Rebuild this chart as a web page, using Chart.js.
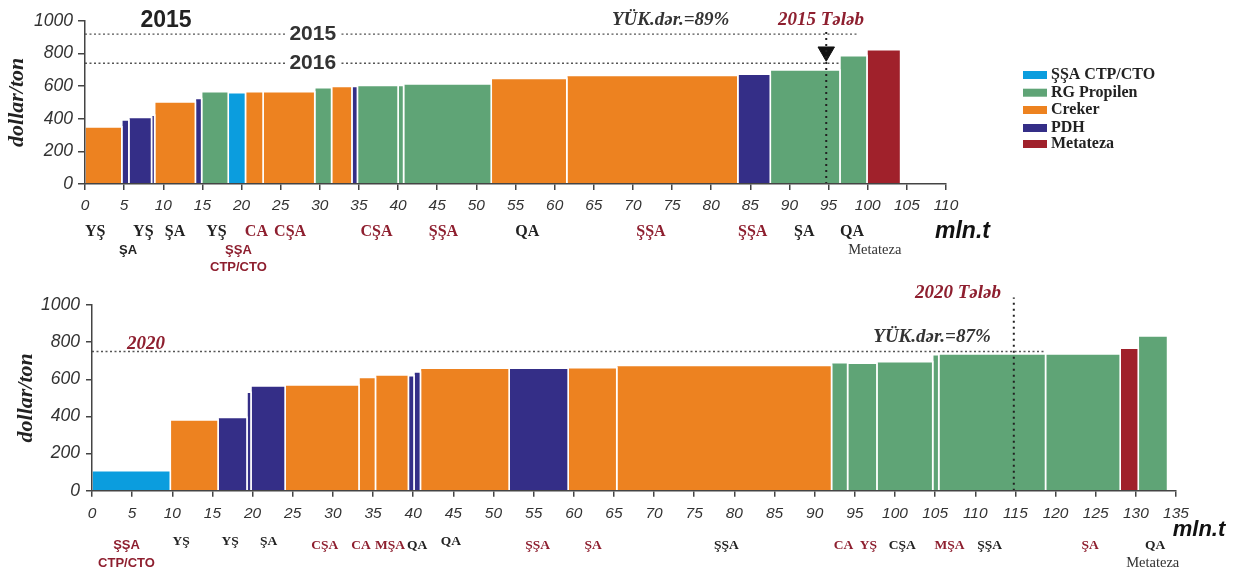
<!DOCTYPE html>
<html>
<head>
<meta charset="utf-8">
<script src="https://cdn.jsdelivr.net/npm/chart.js@4.4.1/dist/chart.umd.min.js"></script>
<style>
  body { margin: 0; background: #fff; }
  #wrap { position: relative; width: 1235px; height: 574px; }
  canvas { position: absolute; left: 0; }
</style>
</head>
<body>
<div id="wrap">
  <canvas id="chart2015" width="1235" height="280" style="top:0"></canvas>
  <canvas id="chart2020" width="1235" height="294" style="top:280px"></canvas>
</div>
<script>
// technology groups (legend order)
var techNames = ['ŞŞA CTP/CTO', 'RG Propilen', 'Creker', 'PDH', 'Metateza'];
var techColors = ['#0B9DDE', '#5FA476', '#ED8220', '#342E87', '#A0212B'];

// 2015 cost curve: capacity of each block (mln.t), cost (dollar/ton), technology index
var cap2015 = [4.7, 0.9, 2.9, 0.4, 5.2, 0.8, 3.4, 2.2, 2.25, 6.6, 2.15, 2.6, 0.7, 5.2, 0.7, 11.2, 9.65, 21.85, 4.15, 8.9, 3.45, 4.3];
var cost2015 = [350, 392, 408, 422, 502, 524, 565, 559, 565, 565, 590, 598, 598, 604, 604, 612, 647, 665, 673, 698, 786, 822];
var tech2015 = [2, 3, 3, 3, 2, 3, 1, 0, 2, 2, 1, 2, 3, 1, 1, 1, 2, 2, 3, 1, 1, 4];

// 2020 cost curve
var cap2020 = [9.75, 5.95, 3.6, 0.5, 4.25, 9.2, 2.05, 4.1, 0.7, 0.8, 11.05, 7.35, 6.05, 26.75, 2.0, 3.65, 6.95, 0.75, 13.3, 9.3, 2.25, 3.65];
var cost2020 = [108, 381, 395, 530, 564, 569, 610, 623, 619, 639, 659, 659, 662, 675, 689, 686, 695, 732, 736, 736, 768, 833];
var tech2020 = [0, 2, 3, 3, 3, 2, 2, 2, 3, 3, 2, 3, 2, 2, 1, 1, 1, 1, 1, 1, 4, 1];

// price levels (dollar/ton) and how far the dotted line runs (mln.t)
var price2015 = 918, price2015End = 98.7;
var price2016 = 739, price2016End = 96.45;
var price2020 = 750, price2020End = 118.75;

// demand and utilisation
var demand2015 = 94.7, demand2020 = 114.8;
var util2015 = 89, util2020 = 87;

// axis ranges
var xMax2015 = 110, xMax2020 = 135, xStep = 5;
var yMax = 1000, yStep = 200;

// region labels under the axes: [text, mln.t, style, row]
var labels2015 = [
  ['YŞ', 1.3, 'k', 0], ['ŞA', 5.5, 'ks', 1], ['YŞ', 7.45, 'k', 0], ['ŞA', 11.5, 'k', 0], ['YŞ', 16.8, 'k', 0],
  ['ŞŞA', 19.6, 'rs', 1], ['CTP/CTO', 19.6, 'rs', 2], ['CA', 21.9, 'r', 0], ['CŞA', 26.2, 'r', 0],
  ['CŞA', 37.25, 'r', 0], ['ŞŞA', 45.8, 'r', 0], ['QA', 56.5, 'k', 0], ['ŞŞA', 72.3, 'r', 0],
  ['ŞŞA', 85.3, 'r', 0], ['ŞA', 91.9, 'k', 0], ['QA', 98.0, 'k', 0], ['Metateza', 100.9, 'm', 1]
];
var labels2020 = [
  ['ŞŞA', 4.3, 'rs', 0], ['CTP/CTO', 4.3, 'rs', 2], ['YŞ', 11.1, 'k', 1], ['YŞ', 17.2, 'k', 1], ['ŞA', 22, 'k', 1],
  ['CŞA', 29, 'r', 0], ['CA', 33.5, 'r', 0], ['MŞA', 37.1, 'r', 0], ['QA', 40.5, 'k', 0], ['QA', 44.7, 'k', 1],
  ['ŞŞA', 55.5, 'r', 0], ['ŞA', 62.4, 'r', 0], ['ŞŞA', 79, 'k', 0], ['CA', 93.6, 'r', 0], ['YŞ', 96.7, 'r', 0],
  ['CŞA', 100.9, 'k', 0], ['MŞA', 106.8, 'r', 0], ['ŞŞA', 111.8, 'k', 0], ['ŞA', 124.3, 'r', 0],
  ['QA', 132.4, 'k', 0], ['Metateza', 132.1, 'm', 2]
];

var serif = "'Liberation Serif', 'Times New Roman', serif";
var sans = "'Liberation Sans', Arial, sans-serif";
var red = '#8E1F2F', ink = '#222', axisInk = '#444';

function labelStyles(size) {
  return {
    k:  { font: 'bold ' + size + 'px ' + serif, color: ink },
    r:  { font: 'bold ' + size + 'px ' + serif, color: red },
    ks: { font: 'bold 13px ' + sans, color: ink },
    rs: { font: 'bold 13px ' + sans, color: red },
    m:  { font: '14.5px ' + serif, color: '#333' }
  };
}

// each block is a closed step outline filled down to zero
function costBlocks(caps, costs, techs) {
  var sets = [], x0 = 0;
  for (var i = 0; i < caps.length; i++) {
    var x1 = x0 + caps[i];
    sets.push({
      data: [{x: x0, y: 0}, {x: x0, y: costs[i]}, {x: x1, y: costs[i]}, {x: x1, y: 0}],
      backgroundColor: techColors[techs[i]],
      borderColor: '#fff',
      borderWidth: 1.6,
      fill: 'origin',
      pointRadius: 0,
      order: 2
    });
    x0 = x1;
  }
  return sets;
}

function dotted(x0, y0, x1, y1, width, dash, color) {
  return {
    data: [{x: x0, y: y0}, {x: x1, y: y1}],
    borderColor: color, borderWidth: width, borderDash: dash,
    fill: false, pointRadius: 0, order: 0, clip: false
  };
}

function marker(x, y) {
  return {
    data: [{x: x, y: y}],
    showLine: false, pointStyle: 'triangle', rotation: 180, pointRadius: 9.5,
    backgroundColor: '#111', borderColor: '#111', borderWidth: 1,
    order: 0, clip: false
  };
}

function text(ctx, str, x, y, font, color, align) {
  ctx.font = font;
  ctx.fillStyle = color;
  ctx.textAlign = align || 'center';
  ctx.textBaseline = 'middle';
  ctx.fillText(str, x, y);
}

function annotate(id, labels, rowY, size, extra) {
  var styles = labelStyles(size);
  return {
    id: id,
    afterDraw: function (chart) {
      var ctx = chart.ctx, xs = chart.scales.x, b = chart.chartArea.bottom;
      ctx.save();
      labels.forEach(function (l) {
        var st = styles[l[2]];
        text(ctx, l[0], xs.getPixelForValue(l[1]), b + rowY[l[3]], st.font, st.color);
      });
      extra(chart, ctx);
      ctx.restore();
    }
  };
}

function options(xMax, axisWidth, pad, titlePad, xLabelPad, yLabelPad, yTick) {
  return {
    responsive: false,
    animation: false,
    devicePixelRatio: 1,
    layout: { padding: pad },
    plugins: { legend: { display: false }, tooltip: { enabled: false } },
    scales: {
      x: {
        type: 'linear', min: 0, max: xMax,
        ticks: {
          stepSize: xStep, autoSkip: false, maxRotation: 0, padding: xLabelPad,
          color: '#333', font: { family: sans, size: 15.5, style: 'italic' },
          callback: function (v) { return String(v); }
        },
        grid: { drawOnChartArea: false, tickLength: 6, color: axisInk, lineWidth: 1.5 },
        border: { color: axisInk, width: 1.5, z: 1 },
        afterFit: function (s) { s.height = 40; }
      },
      y: {
        min: 0, max: yMax,
        ticks: {
          stepSize: yStep, padding: yLabelPad,
          color: '#333', font: { family: sans, size: 17.5, style: 'italic' },
          callback: function (v) { return String(v); }
        },
        grid: { drawOnChartArea: false, tickLength: yTick, color: axisInk, lineWidth: 1.5 },
        border: { color: axisInk, width: 1.5, z: 1 },
        title: {
          display: true, text: 'dollar/ton', color: ink,
          font: { family: serif, size: 22, weight: 'bold', style: 'italic' },
          padding: { top: titlePad, bottom: 0 }
        },
        afterFit: function (s) { s.width = axisWidth; }
      }
    }
  };
}

// ---------- 2015 ----------
var sets2015 = costBlocks(cap2015, cost2015, tech2015).concat([
  dotted(0, price2015, price2015End, price2015, 1.4, [2, 2.5], '#555'),
  dotted(0, price2016, price2016End, price2016, 1.4, [2, 2.5], '#555'),
  dotted(demand2015, 0, demand2015, 955, 2, [2, 4], '#222'),
  marker(demand2015, 810)
]);

new Chart(document.getElementById('chart2015'), {
  type: 'line',
  data: { datasets: sets2015 },
  options: options(xMax2015, 85, { left: 0, top: 20.7, right: 1235 - 946, bottom: 56 }, 4, 6, 5, 7),
  plugins: [annotate('notes2015', labels2015, [48, 66.5, 83], 16, function (chart, ctx) {
    var xs = chart.scales.x, ys = chart.scales.y;
    text(ctx, '2015', 166, 21, 'bold 23px ' + sans, ink);
    [[String(2015), price2015], [String(2016), price2016]].forEach(function (p) {
      var x = xs.getPixelForValue(29.1), y = ys.getPixelForValue(p[1]);
      ctx.font = 'bold 21px ' + sans;
      var w = ctx.measureText(p[0]).width;
      ctx.fillStyle = '#fff';
      ctx.fillRect(x - w / 2 - 3, y - 9, w + 6, 18);
      text(ctx, p[0], x, y, 'bold 21px ' + sans, '#333');
    });
    text(ctx, 'YÜK.dər.=' + util2015 + '%', 612, 20, 'bold italic 19px ' + serif, '#333', 'left');
    text(ctx, '2015 Tələb', 778, 20, 'bold italic 19px ' + serif, red, 'left');
    text(ctx, 'mln.t', 935, 232, 'bold italic 23px ' + sans, '#111', 'left');
    // legend
    var ly = [75, 92.7, 110, 128, 144];
    techNames.forEach(function (n, i) {
      ctx.fillStyle = techColors[i];
      ctx.fillRect(1023, ly[i] - 4, 24, 8);
      text(ctx, n, 1051, ly[i], 'bold 16px ' + serif, ink, 'left');
    });
  })]
});

// ---------- 2020 ----------
var sets2020 = costBlocks(cap2020, cost2020, tech2020).concat([
  dotted(0, price2020, price2020End, price2020, 1.4, [2, 2.5], '#555'),
  dotted(demand2020, 0, demand2020, 1040, 2, [2, 4], '#222'),
  marker(demand2020, 1071)
]);

new Chart(document.getElementById('chart2020'), {
  type: 'line',
  data: { datasets: sets2020 },
  options: options(xMax2020, 92, { left: 0, top: 25, right: 1235 - 1176, bottom: 43.3 }, 13, 8, 6, 6),
  plugins: [annotate('notes2020', labels2020, [55, 51, 72.3], 13.5, function (chart, ctx) {
    text(ctx, '2020', 146, 64, 'bold italic 19px ' + serif, red);
    text(ctx, 'YÜK.dər.=' + util2020 + '%', 932, 57, 'bold italic 19px ' + serif, '#333');
    text(ctx, '2020 Tələb', 958, 13, 'bold italic 19px ' + serif, red);
    text(ctx, 'mln.t', 1199, 250, 'bold italic 22px ' + sans, '#111');
  })]
});
</script>
</body>
</html>
